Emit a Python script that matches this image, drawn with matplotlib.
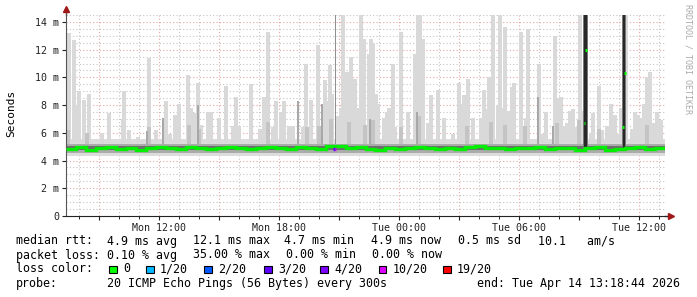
import numpy as np
import matplotlib.pyplot as plt
from matplotlib.patches import Rectangle

plt.rcParams['font.family'] = ['DejaVu Sans Mono']

# time axis in hours since Mon 00:00
t_start = 7.35
t_end = 37.3

# median rtt (ms), one value per 30 min
median = [4.85, 4.95, 4.78, 4.9, 4.97, 4.82, 4.92, 4.78, 4.9, 4.97,
          4.88, 4.8, 4.97, 4.9, 4.82, 4.92, 4.98, 4.88, 4.8, 4.92,
          4.98, 4.88, 4.82, 4.97, 4.9, 4.82, 5.02, 5.08, 4.9, 4.97,
          4.85, 4.75, 4.9, 4.82, 4.92, 4.97, 4.88, 4.82, 4.92, 4.8,
          4.97, 5.02, 4.9, 4.88, 4.8, 4.92, 4.88, 4.97, 4.8, 4.9,
          4.92, 4.76, 4.9, 4.97, 4.78, 4.85, 4.92, 4.97, 4.8, 4.9]

# smoke band (ms)
smoke_outer = (4.3, 5.55)
smoke_mid = (4.55, 5.2)
smoke_inner = (4.74, 5.04)

# light smoke spikes: time (h), top (ms)
spike_t = [7.40, 7.50, 7.75, 7.95, 8.0, 8.25, 8.5, 9.15, 9.5, 10.2, 10.25, 10.5, 10.95,
           11.5, 11.85, 12.35, 12.55, 12.8, 13.0, 13.45, 13.6, 13.75, 13.95, 14.1, 14.45,
           14.6, 15.0, 15.35, 15.7, 15.85, 16.0, 16.6, 17.05, 17.25, 17.45, 17.7, 17.85,
           18.1, 18.25, 18.5, 18.7, 19.2, 19.35, 19.6, 19.95, 20.3, 20.4, 20.55, 20.65,
           20.9, 21.1, 21.2, 21.4, 21.6, 21.8, 22.0, 22.1, 22.25, 22.5, 22.6, 22.7, 22.85,
           22.95, 23.25, 23.4, 23.5, 23.7, 23.8, 24.1, 24.45, 24.8, 24.95, 25.05, 25.2,
           25.45, 25.6, 25.95, 26.25, 26.7, 27.0, 27.15, 27.25, 27.45, 27.7, 28.1, 28.25,
           28.4, 28.5, 28.7, 28.95, 29.05, 29.2, 29.3, 29.45, 29.65, 29.75, 30.1, 30.35,
           30.45, 31.0, 31.15, 31.35, 31.8, 31.95, 32.1, 32.25, 32.4, 32.55, 32.7, 32.9,
           33.05, 33.15, 33.6, 33.7, 34.0, 34.15, 34.4, 34.6, 34.8, 34.95, 35.1, 35.35,
           35.65, 35.8, 35.95, 36.1, 36.25, 36.4, 36.55, 36.7, 36.9, 37.1]
spike_top = [8.4, 13.2, 12.7, 8.0, 9.0, 8.4, 8.8, 6.0, 7.4, 7.0, 9.0, 6.2, 5.7,
             11.4, 6.2, 8.3, 5.9, 7.3, 8.1, 10.2, 7.8, 7.4, 9.6, 6.6, 7.5,
             7.5, 7.1, 9.4, 6.5, 8.6, 6.5, 9.5, 6.3, 8.6, 13.3, 6.4, 8.3,
             7.5, 8.3, 6.5, 6.5, 6.4, 11.0, 8.4, 12.3, 9.8, 8.3, 10.9, 8.8,
             7.2, 7.8, 15.0, 10.4, 11.5, 9.9, 7.8, 15.0, 12.8, 11.7, 12.8, 12.5, 8.8,
             8.1, 7.1, 7.5, 7.8, 11.0, 6.4, 13.3, 7.5, 11.7, 15.0, 15.0, 12.8,
             6.7, 8.7, 9.1, 7.1, 5.9, 9.6, 8.1, 8.7, 9.9, 7.1, 7.1, 9.1,
             7.7, 10.0, 15.0, 8.0, 15.0, 7.8, 13.6, 7.6, 9.3, 9.6, 13.3, 7.1,
             13.5, 11.0, 5.9, 7.5, 13.0, 8.5, 8.6, 6.5, 6.7, 7.6, 7.7, 6.4,
             15.0, 7.6, 6.0, 7.4, 9.4, 6.2, 6.5, 8.1, 7.3, 5.9, 7.8, 15.0,
             6.3, 7.5, 7.3, 7.1, 8.1, 10.0, 10.4, 6.7, 7.5, 6.9]

# mid-grey lower part of the smoke under some spikes
mid_t = [7.45, 8.4, 11.5, 13.5, 14.0, 17.45, 19.4, 20.0, 20.6, 21.5, 22.3, 22.7, 24.1,
         25.0, 27.4, 28.6, 29.3, 30.3, 31.9, 33.0, 34.0, 36.4]
mid_top = [6.2, 6.0, 6.4, 6.6, 6.3, 6.8, 6.4, 6.5, 7.0, 6.8, 6.6, 6.9, 6.4,
           7.2, 6.5, 6.8, 6.6, 6.5, 6.7, 6.9, 6.3, 6.6]

# darker smoke spikes
dark_t = [11.4, 12.2, 13.95, 18.95, 20.15, 22.55, 24.9, 30.95, 31.7]
dark_top = [6.1, 7.1, 8.0, 8.3, 8.1, 7.0, 7.5, 8.6, 6.5]

# high-latency events: time (h), median of the two samples (ms)
event_t = [33.32, 35.25]
event_med = [(6.7, 12.0), (6.4, 10.3)]

loss_colors = ['#00ff00', '#00b8ff', '#0059ff', '#5e00ff', '#7e00ff', '#dd00ff', '#ff0000']
loss_labels = ['0', '1/20', '2/20', '3/20', '4/20', '10/20', '19/20']

fig = plt.figure(figsize=(6.97, 2.97), dpi=100)
W, H = 697, 297
ax = fig.add_axes([66 / W, (H - 216) / H, 599 / W, 201 / H])
ax.set_xlim(t_start, t_end)
ax.set_ylim(0, 14.5)

# grid
for h in np.arange(8, 38):
    c = '#e4a6a6' if h % 3 == 0 else '#c4c4c4'
    ax.axvline(h, color=c, lw=0.8, ls=(0, (1, 2)), zorder=0)
for v in np.arange(0.5, 14.6, 0.5):
    c = '#e4a6a6' if v % 2 == 0 else '#c4c4c4'
    ax.axhline(v, color=c, lw=0.8, ls=(0, (1, 2)), zorder=0)

# smoke
ax.axhspan(*smoke_outer, color='#dcdcdc', lw=0, zorder=1)
ax.bar(spike_t, np.array(spike_top) - 5.3, bottom=5.3, width=0.16,
       color='#d9d9d9', lw=0, zorder=1)
ax.bar(mid_t, np.array(mid_top) - 5.2, bottom=5.2, width=0.2,
       color='#c4c4c4', lw=0, zorder=1)
ax.bar(dark_t, np.array(dark_top) - 5.2, bottom=5.2, width=0.08,
       color='#a8a8a8', lw=0, zorder=2)
ax.bar([20.8], [10], bottom=5.2, width=0.05, color='#909090', lw=0, zorder=2)
ax.axhspan(*smoke_mid, color='#ababab', lw=0, zorder=2)
ax.axhspan(*smoke_inner, color='#6e6e6e', lw=0, zorder=2)

for t, (m1, m2) in zip(event_t, event_med):
    ax.bar([t], [10.5], bottom=4.8, width=0.22, color='#777777', lw=0, zorder=3)
    ax.bar([t], [10.5], bottom=4.8, width=0.14, color='#282828', lw=0, zorder=3)
    ax.hlines(m1, t - 0.08, t, color='#00ff00', lw=2.2, zorder=5)
    ax.hlines(m2, t, t + 0.08, color='#00ff00', lw=2.2, zorder=5)

edges = np.linspace(t_start, t_end, len(median) + 1)
ax.stairs(median, edges, baseline=None, color='#00ee00', lw=2.4, zorder=4)
ax.hlines(4.85, 20.7, 20.78, color=loss_colors[3], lw=2.4, zorder=5)
ax.hlines(4.85, 20.78, 20.86, color=loss_colors[5], lw=2.4, zorder=5)

# axes look
for s in ['top', 'right']:
    ax.spines[s].set_visible(False)
ax.spines['left'].set_color('#555555')
ax.spines['bottom'].set_color('#222222')
ax.plot([0, 0], [1, 1.025], color='#555555', lw=1, transform=ax.transAxes, clip_on=False)
ax.plot([0], [1.03], marker='^', ms=4, color='#a01818', transform=ax.transAxes, clip_on=False)
ax.plot([1, 1.009], [0, 0], color='#222222', lw=1, transform=ax.transAxes, clip_on=False)
ax.plot([1.01], [0], marker='>', ms=4, color='#a01818', transform=ax.transAxes, clip_on=False)

ax.set_yticks(np.arange(0, 15, 2))
ax.set_yticklabels(['0'] + ['%d m' % v for v in range(2, 15, 2)])
ax.set_xticks(np.arange(9, 37, 3))
ax.set_xticklabels(['Mon 12:00' if h == 12 else 'Mon 18:00' if h == 18 else
                    'Tue 00:00' if h == 24 else 'Tue 06:00' if h == 30 else
                    'Tue 12:00' if h == 36 else '' for h in np.arange(9, 37, 3)])
ax.set_xticks(np.arange(8, 38), minor=True)
ax.tick_params(axis='both', labelsize=7.2, colors='#222222', length=3, width=0.8, pad=2)
ax.tick_params(axis='x', which='minor', length=2)

fig.text(11 / W, 1 - 113 / H, 'Seconds', rotation=90, ha='center', va='center', fontsize=8)
fig.text(688 / W, 1 - 4 / H, 'RRDTOOL / TOBI OETIKER', rotation=270, ha='center', va='top',
         fontsize=6, color='#aaaaaa')

def txt(x, y, s, **kw):
    fig.text(x / W, 1 - y / H, s, va='center', fontsize=8.35, **kw)

txt(16, 241, 'median rtt:')
for x, s in zip([107, 193, 284, 371, 458, 538],
                ['4.9 ms avg', '12.1 ms max', '4.7 ms min', '4.9 ms now', '0.5 ms sd', '10.1   am/s']):
    txt(x, 241, s)
txt(16, 255, 'packet loss:')
for x, s in zip([107, 193, 286, 372], ['0.10 % avg', '35.00 % max', '0.00 % min', '0.00 % now']):
    txt(x, 255, s)
txt(16, 269, 'loss color:')
box_x = [109, 146, 204, 264, 320, 379, 443]
for bx, c, lab in zip(box_x, loss_colors, loss_labels):
    fig.patches.append(Rectangle((bx / W, 1 - 273 / H), 7.5 / W, 7.5 / H, transform=fig.transFigure,
                                 facecolor=c, edgecolor='black', lw=0.8))
    txt(bx + 14, 269, lab)
txt(16, 283, 'probe:')
txt(107, 283, '20 ICMP Echo Pings (56 Bytes) every 300s')
txt(680, 283, 'end: Tue Apr 14 13:18:44 2026', ha='right')

fig.savefig('out.png', dpi=100, facecolor='white')
